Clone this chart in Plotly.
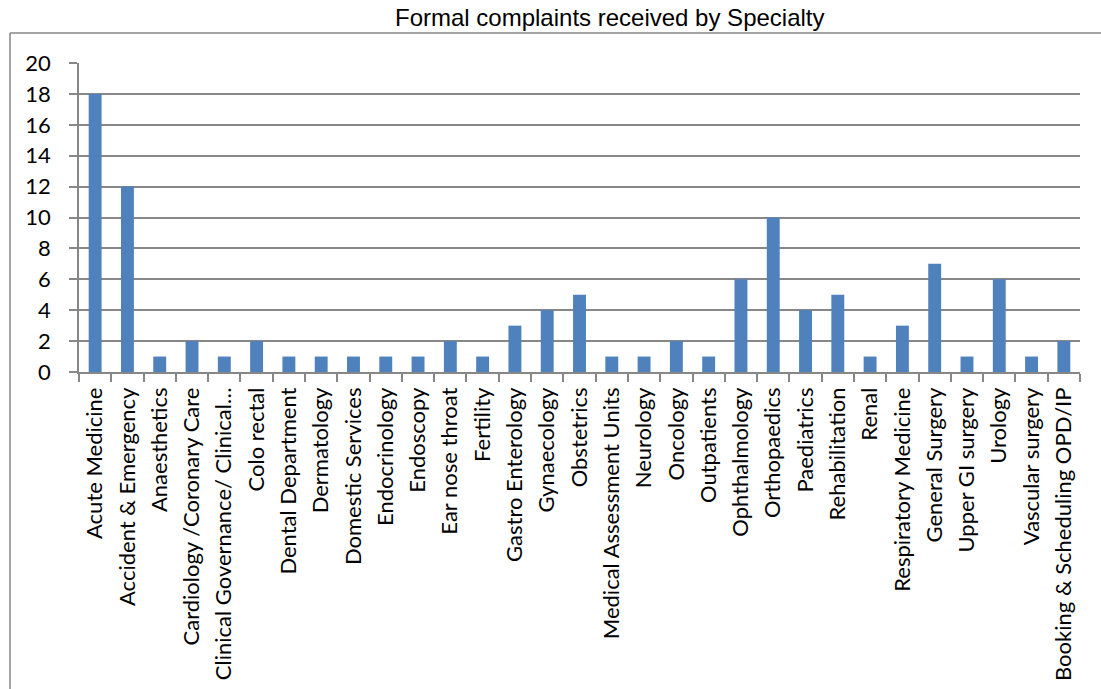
import plotly.graph_objects as go

# Formal complaints by specialty
specialties = [
    "Acute Medicine", "Accident & Emergency", "Anaesthetics",
    "Cardiology /Coronary Care", "Clinical Governance/ Clinical…",
    "Colo rectal", "Dental Department", "Dermatology", "Domestic Services",
    "Endocrinology", "Endoscopy", "Ear nose throat", "Fertility",
    "Gastro Enterology", "Gynaecology", "Obstetrics",
    "Medical Assessment Units", "Neurology", "Oncology", "Outpatients",
    "Ophthalmology", "Orthopaedics", "Paediatrics", "Rehabilitation", "Renal",
    "Respiratory Medicine", "General Surgery", "Upper GI surgery", "Urology",
    "Vascular surgery", "Booking & Scheduling OPD/IP",
]
complaints = [18, 12, 1, 2, 1, 2, 1, 1, 1, 1, 1, 2, 1, 3, 4, 5, 1, 1, 2, 1,
              6, 10, 4, 5, 1, 3, 7, 1, 6, 1, 2]
y_ticks = list(range(0, 21, 2))

W, H = 1101, 689
L, R, T, B = 79, 21, 63, 317
pw, ph = W - L - R, H - T - B


def px(x):
    return (x - L) / pw


def py(y):
    return (H - B - y) / ph


grey = "#878787"
label_font = dict(family="Lato, Open Sans, sans-serif", size=22, color="#000000")

fig = go.Figure(
    go.Bar(x=specialties, y=complaints, marker=dict(color="#4F81BD", line=dict(width=0)))
)

fig.update_layout(
    width=W, height=H,
    margin=dict(l=L, r=R, t=T, b=B, autoexpand=False),
    paper_bgcolor="white", plot_bgcolor="white",
    bargap=0.6, showlegend=False,
    font=label_font,
)
fig.update_xaxes(
    type="category", tickangle=-90, tickson="boundaries",
    ticks="outside", ticklen=8, tickcolor=grey, tickwidth=1.5,
    showline=True, linecolor=grey, linewidth=1.5,
    showgrid=False, tickfont=label_font, ticklabelstandoff=5,
)
fig.update_yaxes(
    range=[0, 20], tickvals=y_ticks, ticks="outside", ticklen=8,
    tickcolor=grey, tickwidth=1.5, showline=True, linecolor=grey, linewidth=1.5,
    showgrid=True, gridcolor=grey, gridwidth=1.5, zeroline=False,
    tickfont=label_font, ticklabelstandoff=14,
)

# outer chart frame (left and top edges)
frame = dict(color=grey, width=1.5)
fig.add_shape(type="line", xref="paper", yref="paper",
              x0=px(10), x1=px(10), y0=py(33), y1=py(700), line=frame)
fig.add_shape(type="line", xref="paper", yref="paper",
              x0=px(10), x1=px(1110), y0=py(33), y1=py(33), line=frame)

fig.add_annotation(
    text="Formal complaints received by Specialty",
    xref="paper", yref="paper", x=px(610), y=py(33),
    xanchor="center", yanchor="bottom", showarrow=False,
    font=dict(family="Liberation Sans, Arial, sans-serif", size=24, color="#000000"),
)

fig.write_html("out.html")
